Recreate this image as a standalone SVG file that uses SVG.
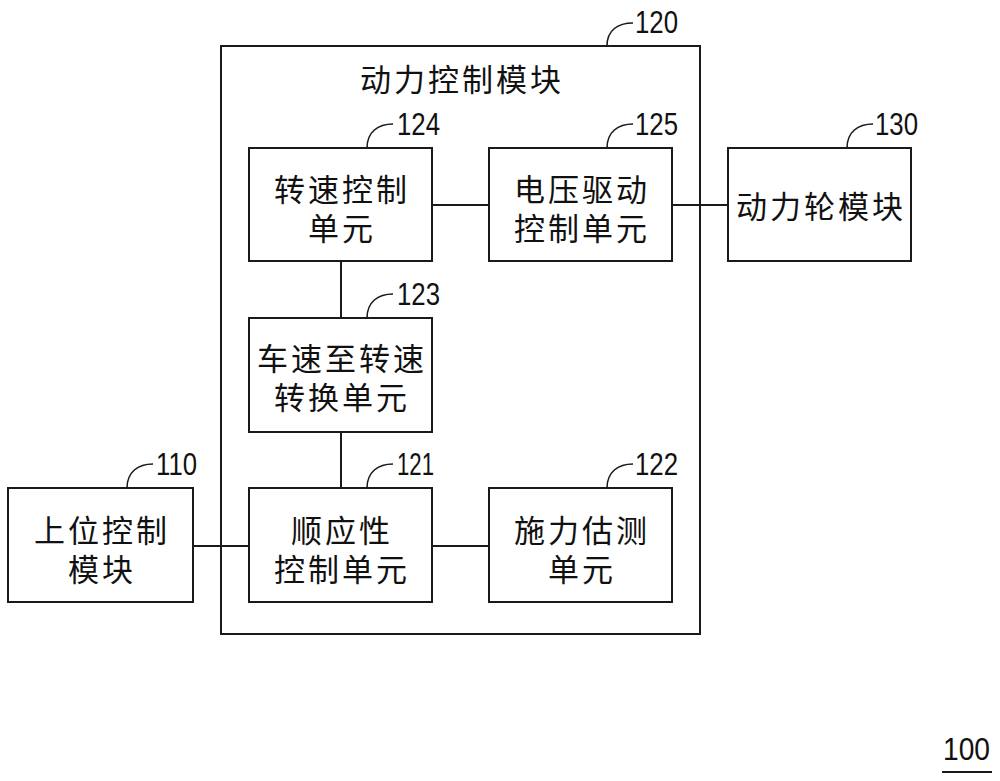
<svg xmlns="http://www.w3.org/2000/svg" width="1000" height="781" viewBox="0 0 1000 781">
<style>
.box{fill:#fff;stroke:#1a1a1a;stroke-width:2}
.ln{fill:none;stroke:#1a1a1a;stroke-width:2}
.ld{fill:none;stroke:#1a1a1a;stroke-width:1.6}
.t{font-family:"Noto Sans CJK SC","Noto Sans CJK JP",sans-serif;font-size:31px;letter-spacing:3px;fill:#111;text-anchor:middle}
.n{font-family:"Liberation Sans",Arial,sans-serif;font-size:32px;fill:#111}
</style>
<rect width="1000" height="781" fill="#fff"/>
<g id="n120">
<rect class="box" x="221" y="46" width="479" height="588"/>
<text class="t" x="462" y="91">动力控制模块</text>
<path class="ld" d="M607,46 C607,30 618,23 633,23"/>
<text class="n" x="635" y="33" textLength="43" lengthAdjust="spacingAndGlyphs">120</text>
</g>
<g id="n124">
<rect class="box" x="249" y="148" width="183" height="113"/>
<text class="t" x="342" y="201">转速控制</text>
<text class="t" x="342" y="240">单元</text>
<path class="ld" d="M367,148 C367,132 378,124 393,124"/>
<text class="n" x="397" y="135" textLength="43" lengthAdjust="spacingAndGlyphs">124</text>
</g>
<g id="n125">
<rect class="box" x="489" y="148" width="183" height="113"/>
<text class="t" x="582" y="201">电压驱动</text>
<text class="t" x="582" y="240">控制单元</text>
<path class="ld" d="M607,148 C607,132 618,124 633,124"/>
<text class="n" x="635" y="135" textLength="43" lengthAdjust="spacingAndGlyphs">125</text>
</g>
<g id="n130">
<rect class="box" x="728" y="148" width="183" height="113"/>
<text class="t" x="821" y="218">动力轮模块</text>
<path class="ld" d="M847,148 C847,132 858,124 873,124"/>
<text class="n" x="875" y="135" textLength="43" lengthAdjust="spacingAndGlyphs">130</text>
</g>
<g id="n123">
<rect class="box" x="249" y="318" width="183" height="114"/>
<text class="t" x="342" y="370">车速至转速</text>
<text class="t" x="342" y="409">转换单元</text>
<path class="ld" d="M367,318 C367,302 378,294 393,294"/>
<text class="n" x="397" y="305" textLength="43" lengthAdjust="spacingAndGlyphs">123</text>
</g>
<g id="n121">
<rect class="box" x="249" y="488" width="183" height="114"/>
<text class="t" x="342" y="542">顺应性</text>
<text class="t" x="342" y="581">控制单元</text>
<path class="ld" d="M367,488 C367,472 378,464 393,464"/>
<text class="n" x="397" y="475" textLength="37" lengthAdjust="spacingAndGlyphs">121</text>
</g>
<g id="n122">
<rect class="box" x="489" y="488" width="183" height="114"/>
<text class="t" x="582" y="542">施力估测</text>
<text class="t" x="582" y="581">单元</text>
<path class="ld" d="M607,488 C607,472 618,464 633,464"/>
<text class="n" x="635" y="475" textLength="43" lengthAdjust="spacingAndGlyphs">122</text>
</g>
<g id="n110">
<rect class="box" x="8" y="488" width="185" height="114"/>
<text class="t" x="102" y="542">上位控制</text>
<text class="t" x="102" y="581">模块</text>
<path class="ld" d="M127,488 C127,472 138,464 153,464"/>
<text class="n" x="156" y="475" textLength="41" lengthAdjust="spacingAndGlyphs">110</text>
</g>
<g id="n100">
<text class="n" x="943" y="760" textLength="47" lengthAdjust="spacingAndGlyphs">100</text>
<line class="ln" x1="942" y1="772" x2="992" y2="772"/>
</g>
<g id="connectors">
<line class="ln" x1="432" y1="205" x2="489" y2="205"/>
<line class="ln" x1="672" y1="205" x2="728" y2="205"/>
<line class="ln" x1="341" y1="261" x2="341" y2="318"/>
<line class="ln" x1="341" y1="432" x2="341" y2="488"/>
<line class="ln" x1="193" y1="546" x2="249" y2="546"/>
<line class="ln" x1="432" y1="546" x2="489" y2="546"/>
</g>
</svg>
